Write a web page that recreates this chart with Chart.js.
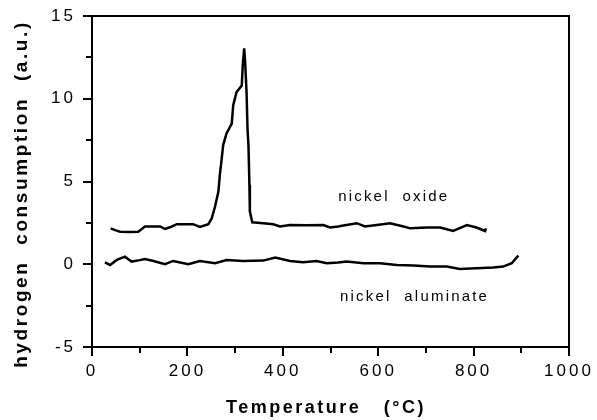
<!DOCTYPE html>
<html>
<head>
<meta charset="utf-8">
<script src="https://cdn.jsdelivr.net/npm/chart.js@4.4.1/dist/chart.umd.min.js"></script>
<style>
  html, body { margin: 0; padding: 0; background: #fff; }
</style>
</head>
<body>
<canvas id="tprChart" width="597" height="420"></canvas>
<script>
// TPR traces (temperature in °C, H2 consumption in a.u.)
const oxideTemp = [39, 50, 59, 80, 97, 111, 143, 153, 165, 178, 212, 226, 244, 251, 258, 265, 268, 272, 275, 282, 293, 296, 303, 314, 316, 319, 321, 324, 326, 328, 330, 331, 336, 359, 380, 394, 415, 450, 485, 499, 516, 527, 555, 572, 597, 625, 653, 667, 702, 730, 757, 786, 806, 824, 826];
const oxideH2 = [2.17, 2.05, 1.97, 1.95, 1.97, 2.28, 2.28, 2.13, 2.25, 2.42, 2.42, 2.26, 2.42, 2.78, 3.49, 4.39, 5.4, 6.4, 7.2, 7.9, 8.5, 9.6, 10.4, 10.8, 12.0, 13.05, 12.25, 10.4, 8.2, 7.2, 4.8, 3.18, 2.54, 2.48, 2.42, 2.28, 2.37, 2.35, 2.37, 2.22, 2.28, 2.34, 2.48, 2.28, 2.37, 2.48, 2.28, 2.17, 2.22, 2.22, 2.01, 2.37, 2.22, 2.01, 2.17];

const aluminateTemp = [27, 38, 52, 69, 83, 100, 111, 129, 153, 170, 202, 226, 258, 282, 317, 359, 384, 415, 443, 471, 492, 516, 534, 569, 604, 639, 674, 709, 744, 771, 806, 841, 862, 880, 890, 894];
const aluminateH2 = [0.12, -0.04, 0.26, 0.46, 0.16, 0.25, 0.32, 0.2, 0.0, 0.2, 0.0, 0.2, 0.06, 0.26, 0.2, 0.22, 0.4, 0.2, 0.12, 0.2, 0.06, 0.1, 0.16, 0.06, 0.06, -0.04, -0.08, -0.14, -0.14, -0.28, -0.24, -0.2, -0.14, 0.06, 0.4, 0.52];

const xRange = [0, 1000];
const yRange = [-5, 15];
const xStep = 200;
const yStep = 5;
const xTitle = 'Temperature   (°C)';
const yTitle = 'hydrogen  consumption  (a.u.)';
const curveNames = ['nickel  oxide', 'nickel  aluminate'];

function toPoints(xs, ys) {
  return xs.map((x, i) => ({ x: x, y: ys[i] }));
}

// box, tick marks and the hand-lettered text
const framePlugin = {
  id: 'frame',
  beforeDraw(chart) {
    chart.ctx.letterSpacing = '3px';
  },
  afterDraw(chart) {
    const ctx = chart.ctx;
    const a = chart.chartArea;
    const xs = chart.scales.x;
    const ys = chart.scales.y;
    ctx.save();
    ctx.letterSpacing = '0px';
    ctx.strokeStyle = '#000';
    ctx.lineWidth = 2;
    ctx.lineCap = 'square';
    ctx.strokeRect(a.left, a.top, a.right - a.left, a.bottom - a.top);

    ctx.beginPath();
    for (let v = xRange[0]; v <= xRange[1]; v += xStep / 2) {
      const px = Math.round(xs.getPixelForValue(v));
      const len = v % xStep === 0 ? 8 : 5;
      ctx.moveTo(px, a.bottom);
      ctx.lineTo(px, a.bottom + len);
    }
    for (let v = yRange[0]; v <= yRange[1]; v += yStep / 2) {
      const py = Math.round(ys.getPixelForValue(v));
      const len = v % yStep === 0 ? 8 : 5;
      ctx.moveTo(a.left, py);
      ctx.lineTo(a.left - len, py);
    }
    ctx.stroke();

    ctx.fillStyle = '#000';
    ctx.textBaseline = 'middle';

    // x title
    ctx.font = 'bold 18px "Liberation Sans", Arial, sans-serif';
    ctx.letterSpacing = '2.5px';
    ctx.textAlign = 'center';
    ctx.fillText(xTitle, 326, 408);

    // y title
    ctx.save();
    ctx.translate(22, 194);
    ctx.rotate(-Math.PI / 2);
    ctx.font = 'bold 19px "Liberation Sans", Arial, sans-serif';
    ctx.letterSpacing = '2.6px';
    ctx.fillText(yTitle, 0, 0);
    ctx.restore();

    // curve labels
    ctx.font = '15px "Liberation Sans", Arial, sans-serif';
    ctx.letterSpacing = '2.2px';
    ctx.textAlign = 'left';
    ctx.fillText(curveNames[0], xs.getPixelForValue(516), ys.getPixelForValue(4.1));
    ctx.fillText(curveNames[1], xs.getPixelForValue(520), ys.getPixelForValue(-2.0));
    ctx.restore();
  }
};

const ctx = document.getElementById('tprChart').getContext('2d');
const tprChart = new Chart(ctx, {
  type: 'line',
  data: {
    datasets: [
      {
        label: curveNames[0],
        data: toPoints(oxideTemp, oxideH2),
        borderColor: '#000',
        borderWidth: 2.5,
        pointRadius: 0,
        tension: 0,
        fill: false
      },
      {
        label: curveNames[1],
        data: toPoints(aluminateTemp, aluminateH2),
        borderColor: '#000',
        borderWidth: 2.5,
        pointRadius: 0,
        tension: 0,
        fill: false
      }
    ]
  },
  options: {
    responsive: false,
    animation: false,
    layout: { padding: { top: 16, right: 28, left: 0, bottom: 0 } },
    plugins: {
      legend: { display: false },
      tooltip: { enabled: false }
    },
    scales: {
      x: {
        type: 'linear',
        min: xRange[0],
        max: xRange[1],
        grid: { display: false, drawTicks: false },
        border: { display: false },
        ticks: {
          stepSize: xStep,
          color: '#000',
          padding: 14,
          maxRotation: 0,
          callback: v => String(v),
          font: { family: '"Liberation Sans", Arial, sans-serif', size: 17 }
        },
        afterFit(scale) {
          scale.height = 73;
          scale.paddingLeft = 0;
          scale.paddingRight = 0;
        }
      },
      y: {
        min: yRange[0],
        max: yRange[1],
        grid: { display: false, drawTicks: false },
        border: { display: false },
        ticks: {
          stepSize: yStep,
          color: '#000',
          padding: 16,
          font: { family: '"Liberation Sans", Arial, sans-serif', size: 17 }
        },
        afterFit(scale) {
          scale.width = 92;
          scale.paddingTop = 0;
          scale.paddingBottom = 0;
        }
      }
    }
  },
  plugins: [framePlugin]
});
</script>
</body>
</html>
